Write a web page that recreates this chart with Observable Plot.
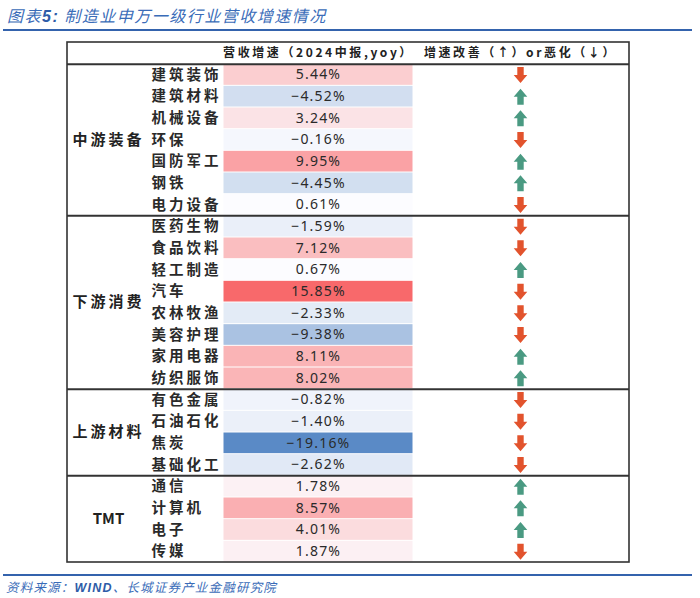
<!DOCTYPE html>
<html><head><meta charset="utf-8">
<script src="https://cdn.jsdelivr.net/npm/d3@7"></script>
<script src="https://cdn.jsdelivr.net/npm/@observablehq/plot@0.6"></script>
<style>
body{margin:0;background:#fff;width:700px;height:598px;position:relative;overflow:hidden;font-family:"Noto Sans CJK SC","Noto Sans",sans-serif;}
#title{position:absolute;left:3px;top:0;width:689px;height:31px;border-bottom:2px solid #3463ad;color:#3a6cb8;font-size:16px;font-style:italic;letter-spacing:1.5px;line-height:31px;padding-left:4px;box-sizing:border-box;}
#title b{font-family:"Liberation Sans",sans-serif;font-weight:bold;color:#2e5ca8;}
#source{position:absolute;left:3px;top:574px;width:689px;border-top:2px solid #3463ad;color:#3a6cb8;font-size:12.5px;font-style:italic;letter-spacing:1.2px;line-height:22px;padding-left:3px;box-sizing:border-box;}
#source b{font-family:"Liberation Sans",sans-serif;color:#2e5ca8;}
#chart{position:absolute;left:0;top:0;}
</style>
</head><body>
<div id="chart"></div>
<div id="title"></div>
<div id="source"></div>
<script>
// ---- data ----
const titleText = ["图表", "5:", " 制造业申万一级行业营收增速情况"];
const sourceText = ["资料来源：", "WIND", "、长城证券产业金融研究院"];
const headers = ["营收增速（2024中报,yoy）", "增速改善（↑）or恶化（↓）"];
const groups = ["中游装备", "下游消费", "上游材料", "TMT"];
const groupSizes = [7, 8, 4, 4];
const industries = [
  "建筑装饰","建筑材料","机械设备","环保","国防军工","钢铁","电力设备",
  "医药生物","食品饮料","轻工制造","汽车","农林牧渔","美容护理","家用电器","纺织服饰",
  "有色金属","石油石化","焦炭","基础化工",
  "通信","计算机","电子","传媒"
];
const growth = [
  5.44,-4.52,3.24,-0.16,9.95,-4.45,0.61,
  -1.59,7.12,0.67,15.85,-2.33,-9.38,8.11,8.02,
  -0.82,-1.40,-19.16,-2.62,
  1.78,8.57,4.01,1.87
];
const trend = [
  "down","up","up","down","up","up","down",
  "down","down","up","down","down","down","up","up",
  "down","down","down","down",
  "up","up","up","down"
];

// ---- header/footer text ----
document.getElementById("title").innerHTML = `${titleText[0]}<b>${titleText[1]}</b>${titleText[2]}`;
document.getElementById("source").innerHTML = `${sourceText[0]}<b>${sourceText[1]}</b>${sourceText[2]}`;

// ---- layout ----
const L = 67, R = 629;          // table edges
const xGroup = 108, xName = 151, xV1 = 223, xV2 = 413, xVal = 318, xTrend = 520;

const rows = industries.map((name, i) => ({name, v: growth[i], t: trend[i], y1: i + 1, y2: i + 2, yc: i + 1.5}));
let start = 1;
const groupRows = groups.map((g, k) => {
  const r = {g, yc: start + groupSizes[k] / 2, y1: start, y2: start + groupSizes[k]};
  start += groupSizes[k];
  return r;
});
const separators = [1, ...groupRows.slice(0, -1).map(d => d.y2)];

function arrow(dir) {
  return {
    draw(ctx, size) {
      const s = Math.sqrt(size / Math.PI);
      const k = dir === "up" ? 1 : -1;
      const hw = 0.85 * s, sw = 0.4 * s, hb = 0.0 * s;
      ctx.moveTo(0, -s * k);
      ctx.lineTo(hw, hb * k);
      ctx.lineTo(sw, hb * k);
      ctx.lineTo(sw, s * k);
      ctx.lineTo(-sw, s * k);
      ctx.lineTo(-sw, hb * k);
      ctx.lineTo(-hw, hb * k);
      ctx.closePath();
    }
  };
}

const vmin = d3.min(growth), vmax = d3.max(growth), vmid = d3.median(growth);
const fmt = v => d3.format(".2f")(v) + "%";

const chart = Plot.plot({
  width: 700,
  height: 598,
  margin: 0,
  x: {domain: [0, 700], range: [0, 700], axis: null},
  y: {domain: [0, industries.length + 1], range: [42, 562], axis: null},
  color: {type: "linear", domain: [vmin, vmid, vmax], range: ["#5A8AC6", "#FCFCFF", "#F8696B"], interpolate: "rgb"},
  style: {fontFamily: '"Noto Sans CJK SC","Noto Sans",sans-serif', background: "transparent"},
  marks: [
    Plot.rect(rows, {x1: xV1, x2: xV2, y1: "y1", y2: "y2", fill: "v", inset: 0.5}),
    Plot.text(headers, {x: (d, i) => i === 0 ? xVal : xTrend, y: 0.5, text: d => d, fontSize: 12, fontWeight: "bold", fill: "#222"}),
    Plot.text(rows, {x: xName, y: "yc", text: "name", textAnchor: "start", fontSize: 14.5, fontWeight: "bold", fill: "#2a2a2a"}),
    Plot.text(rows, {x: xVal, y: "yc", text: d => fmt(d.v), fontSize: 14, fill: "#2a2a2a", fontFamily: '"Noto Sans",sans-serif'}),
    Plot.text(groupRows, {x: xGroup, y: "yc", text: "g", fontSize: 15, fontWeight: "bold", fill: "#222"}),
    Plot.dot(rows.filter(d => d.t === "up"), {x: xTrend, y: "yc", r: 8, symbol: arrow("up"), fill: "#4A9A82", stroke: "none"}),
    Plot.dot(rows.filter(d => d.t === "down"), {x: xTrend, y: "yc", r: 8, symbol: arrow("down"), fill: "#E2532D", stroke: "none"}),
    Plot.ruleY(separators, {x1: L, x2: R, stroke: "#333", strokeWidth: 2}),
    Plot.rect([0], {x1: L, x2: R, y1: 0, y2: industries.length + 1, fill: "none", stroke: "#333", strokeWidth: 1.6})
  ]
});
// letter spacing per text mark (headers, names, values, groups)
const spacing = ["2.6px", "3px", "1.2px", "3px"];
chart.querySelectorAll('g[aria-label="text"]').forEach((g, i) => {
  if (spacing[i]) g.style.letterSpacing = spacing[i];
  g.querySelectorAll("text").forEach(t => {
    if (/^[A-Z]+$/.test(t.textContent)) t.style.letterSpacing = "0px";
  });
});
document.getElementById("chart").appendChild(chart);
</script>
</body></html>
